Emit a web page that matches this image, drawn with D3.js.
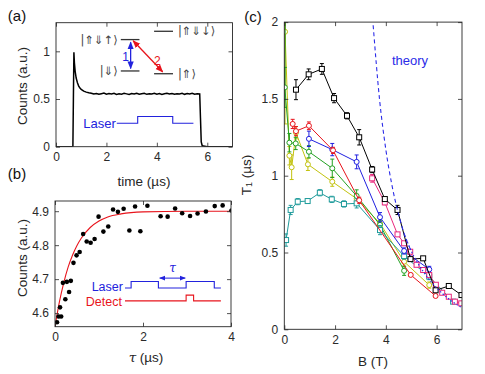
<!DOCTYPE html>
<html>
<head>
<meta charset="utf-8">
<script src="https://cdn.jsdelivr.net/npm/d3@7"></script>
<style>
  body { margin: 0; background: #fff; }
  svg { font-family: "Liberation Sans", Arial, Helvetica, sans-serif; }
  .tick text { font-size: 12px; fill: #2a2a2a; font-family: "Liberation Sans", Arial, Helvetica, sans-serif; }
</style>
</head>
<body>
<svg id="fig" width="485" height="374"></svg>
<script>
// ---- panel (a): PL trace ----
const tA = [0, 0.67, 0.69, 0.71, 0.73, 0.76, 0.8, 0.85, 0.9, 0.95, 1.0, 1.1, 1.2, 1.3,
  1.4, 1.5, 1.6, 1.7, 1.8, 1.9, 2.0, 2.1, 2.2, 2.3, 2.4, 2.5, 2.6, 2.7, 2.8, 2.9, 3.0,
  3.1, 3.2, 3.3, 3.4, 3.5, 3.6, 3.7, 3.8, 3.9, 4.0, 4.1, 4.2, 4.3, 4.4, 4.5, 4.6, 4.7,
  4.8, 4.9, 5.0, 5.1, 5.2, 5.3, 5.4, 5.5, 5.6, 5.7, 5.73, 5.76, 5.8, 6.0, 7.0];
const countsA = [0, 0, 0.5, 0.99, 0.88, 0.79, 0.72, 0.67, 0.635, 0.615, 0.6, 0.583, 0.572, 0.566,
  0.561, 0.552, 0.558, 0.549, 0.556, 0.562, 0.550, 0.557, 0.553, 0.560, 0.548, 0.556, 0.551, 0.559,
  0.554, 0.547, 0.558, 0.552, 0.561, 0.550, 0.555, 0.559, 0.549, 0.556, 0.553, 0.560, 0.551, 0.557,
  0.548, 0.555, 0.561, 0.552, 0.558, 0.550, 0.556, 0.553, 0.559, 0.549, 0.557, 0.552, 0.560, 0.551,
  0.556, 0.553, 0.3, 0.05, 0.01, 0, 0];
const ticksAx = [0, 2, 4, 6];
const ticksAy = [0, 0.5, 1];

// laser pulse sketch in (a), in data units
const laserAx = [2.41, 3.24, 3.24, 4.63, 4.63, 5.45];
const laserAy = [0.246, 0.246, 0.316, 0.316, 0.246, 0.246];

// energy levels in (a)
const levels = [
  {label: "|\u21D1\u21D3\u2191\u27E9", x0: 2.57, x1: 3.31, y: 1.123, side: "left"},
  {label: "|\u21D1\u21D3\u2193\u27E9", x0: 3.89, x1: 4.64, y: 1.21, side: "right"},
  {label: "|\u21D3\u27E9", x0: 2.57, x1: 3.31, y: 0.794, side: "left"},
  {label: "|\u21D1\u27E9", x0: 3.89, x1: 4.64, y: 0.765, side: "right"}
];

// ---- panel (b): T1 recovery ----
const tauB = [0.046, 0.08, 0.14, 0.114, 0.18, 0.235, 0.27, 0.32, 0.36, 0.42, 0.49, 0.56,
  0.64, 0.72, 0.81, 0.90, 0.99, 1.10, 1.21, 1.32, 1.43, 1.56, 1.69, 1.82, 1.94, 2.10,
  2.40, 2.56, 2.73, 2.89, 3.07, 3.24, 3.43, 3.63, 3.81, 4.01];
const countsB = [4.573, 4.590, 4.590, 4.617, 4.689, 4.641, 4.692, 4.662, 4.695, 4.748, 4.770, 4.780,
  4.833, 4.811, 4.807, 4.818, 4.884, 4.840, 4.855, 4.905, 4.898, 4.907, 4.843, 4.914, 4.841, 4.916,
  4.885, 4.884, 4.908, 4.894, 4.886, 4.893, 4.899, 4.915, 4.917, 4.902];
const fitTau = [0, 0.1, 0.2, 0.3, 0.4, 0.5, 0.6, 0.8, 1.0, 1.2, 1.5, 2.0, 3.0, 4.0];
const fitCounts = [4.56, 4.633, 4.690, 4.736, 4.771, 4.799, 4.821, 4.852, 4.871, 4.883, 4.892, 4.898, 4.900, 4.900];
const ticksBx = [0, 2, 4];
const ticksBy = [4.6, 4.7, 4.8, 4.9];

const laserBx = [1.59, 1.73, 1.73, 2.35, 2.35, 2.98, 2.98, 3.62, 3.62, 3.77];
const laserBy = [4.674, 4.674, 4.693, 4.693, 4.674, 4.674, 4.693, 4.693, 4.674, 4.674];
const detectBx = [1.59, 2.98, 2.98, 3.15, 3.15, 3.77];
const detectBy = [4.636, 4.636, 4.653, 4.653, 4.636, 4.636];

// ---- panel (c): T1 vs B ----
const blackB = [0.46, 0.96, 1.48, 1.96, 2.47, 2.95, 3.46, 3.96, 4.46, 4.97, 5.47, 5.96, 6.48, 6.98];
const blackT = [1.56, 1.66, 1.695, 1.505, 1.39, 1.25, 1.04, 0.848, 0.777, 0.457, 0.462, 0.254, 0.282, 0.223];
const blackE = [0.065, 0.035, 0.035, 0.03, 0.02, 0.05, 0.02, 0.01, 0.03, 0.01, 0.01, 0.01, 0.01, 0.01];

const redB = [0.33, 0.46, 0.97, 1.92, 2.95, 4.98, 5.96];
const redT = [1.337, 1.29, 1.325, 1.165, 0.84, 0.354, 0.217];
const redE = [0.03, 0.03, 0.025, 0.02, 0.02, 0.01, 0.01];

const blueB = [0.97, 1.89, 2.85, 3.77, 4.72, 5.71];
const blueT = [1.24, 1.17, 1.09, 0.73, 0.51, 0.39];
const blueE = [0.05, 0.04, 0.045, 0.03, 0.02, 0.02];

const greenB = [0.05, 0.02, 0.2, 0.45, 0.97, 1.89, 2.85, 3.77, 4.72];
const greenT = [2.4, 1.575, 1.215, 1.21, 1.156, 1.048, 0.868, 0.68, 0.381];
const greenE = [0, 0.13, 0.06, 0.04, 0.04, 0.06, 0.04, 0.03, 0.03];

const yellowB = [0.0, 0.03, 0.2, 0.29, 0.46, 0.93, 1.89, 2.85, 3.77, 4.72, 5.71];
const yellowT = [2.4, 1.937, 1.13, 1.055, 1.28, 1.074, 0.961, 0.85, 0.69, 0.44, 0.288];
const yellowE = [0, 0.6, 0.06, 0.08, 0.04, 0.04, 0.03, 0.03, 0.03, 0.03, 0.02];

const tealB = [0.07, 0.25, 0.53, 0.92, 1.4, 1.87, 2.35, 2.85, 3.77, 4.72, 5.71, 6.65];
const tealT = [0.581, 0.777, 0.831, 0.835, 0.889, 0.846, 0.816, 0.82, 0.646, 0.477, 0.343, 0.18];
const tealE = [0.04, 0.03, 0.02, 0.015, 0.02, 0.02, 0.02, 0.03, 0.03, 0.02, 0.02, 0.01];

const pinkB = [3.46, 3.96, 4.46, 4.72, 4.96, 5.21, 5.47, 5.71, 5.97, 6.22, 6.48, 6.72, 6.97];
const pinkT = [0.983, 0.826, 0.618, 0.56, 0.505, 0.42, 0.386, 0.353, 0.29, 0.238, 0.212, 0.18, 0.169];
const pinkE = [0.025, 0.015, 0.01, 0.01, 0.01, 0.01, 0.01, 0.01, 0.01, 0.01, 0.01, 0.01, 0.01];

const theoryDashB = [3.5, 3.75, 4.0, 4.25, 4.5, 4.75, 5.0];
const theoryDashT = [1.98, 1.5, 1.17, 0.93, 0.75, 0.61, 0.51];
const theoryDotB = [4.75, 5.0, 5.5, 6.0, 6.5, 7.0];
const theoryDotT = [0.61, 0.51, 0.37, 0.27, 0.195, 0.14];

const ticksCx = [0, 2, 4, 6];
const ticksCy = [0, 0.5, 1, 1.5, 2];

const svg = d3.select("#fig");
const AXIS = "#262626";
const FONT = "'Liberation Sans', Arial, Helvetica, sans-serif";
let clipCount = 0;

const zip = (xs, ys) => xs.map((v, i) => [v, ys[i]]);

function makePanel(box, xDom, yDom) {
  const x = d3.scaleLinear().domain(xDom).range([box.l, box.r]);
  const y = d3.scaleLinear().domain(yDom).range([box.b, box.t]);
  const id = "clip" + (clipCount++);
  svg.append("clipPath").attr("id", id).append("rect")
    .attr("x", box.l).attr("y", box.t)
    .attr("width", box.r - box.l).attr("height", box.b - box.t);
  const g = svg.append("g");
  return {x, y, g, box, clip: `url(#${id})`};
}

// box + inward ticks on all four sides
function drawFrame(p, xTicks, yTicks) {
  const {x, y, box} = p;
  const fmt = d => String(d);
  const parts = [
    [d3.axisBottom(x).tickValues(xTicks).tickFormat(fmt), `translate(0,${box.b})`],
    [d3.axisTop(x).tickValues(xTicks).tickFormat(""), `translate(0,${box.t})`],
    [d3.axisLeft(y).tickValues(yTicks).tickFormat(fmt), `translate(${box.l},0)`],
    [d3.axisRight(y).tickValues(yTicks).tickFormat(""), `translate(${box.r},0)`]
  ];
  parts.forEach(([ax, tr]) => {
    const a = svg.append("g").attr("transform", tr)
      .call(ax.tickSize(-4).tickSizeOuter(0).tickPadding(6))
      .attr("font-family", FONT).attr("font-size", 12);
    a.select(".domain").remove();
    a.selectAll(".tick line").attr("stroke", AXIS).attr("stroke-width", 0.8);
  });
  svg.append("rect")
    .attr("x", box.l).attr("y", box.t)
    .attr("width", box.r - box.l).attr("height", box.b - box.t)
    .attr("fill", "none").attr("stroke", AXIS).attr("stroke-width", 0.9);
}

function text(str, x, y, opts = {}) {
  const t = svg.append("text").attr("x", x).attr("y", y)
    .attr("font-size", opts.size || 13.5)
    .attr("fill", opts.color || AXIS)
    .attr("text-anchor", opts.anchor || "middle")
    .attr("dominant-baseline", "central")
    .text(str);
  if (opts.rotate) t.attr("transform", `rotate(-90,${x},${y})`);
  if (opts.family) t.attr("font-family", opts.family);
  if (opts.italic) t.attr("font-style", "italic");
  return t;
}

function arrowHead(defs, id, color) {
  defs.append("marker").attr("id", id)
    .attr("viewBox", "0 0 10 10").attr("refX", 9).attr("refY", 5)
    .attr("markerWidth", 6).attr("markerHeight", 6).attr("orient", "auto-start-reverse")
    .append("path").attr("d", "M0,1 L10,5 L0,9 z").attr("fill", color);
}
const defs = svg.append("defs");
arrowHead(defs, "arrBlue", "#2222dd");
arrowHead(defs, "arrRed", "#e8141c");

// ================= panel (a) =================
const pa = makePanel({l: 56, r: 232.5, t: 22.7, b: 146.7}, [0, 7], [0, 1.3]);
const lineA = d3.line().x(d => pa.x(d[0])).y(d => pa.y(d[1]));

pa.g.append("path").datum(zip(tA, countsA))
  .attr("d", lineA).attr("fill", "none").attr("stroke", "#000").attr("stroke-width", 1.5)
  .attr("clip-path", pa.clip);

pa.g.append("path").datum(zip(laserAx, laserAy))
  .attr("d", lineA).attr("fill", "none").attr("stroke", "#2222dd").attr("stroke-width", 1.1);
text("Laser", pa.x(laserAx[0]) - 1, pa.y(laserAy[0]), {color: "#2222dd", anchor: "end", size: 13});

levels.forEach(lv => {
  pa.g.append("line")
    .attr("x1", pa.x(lv.x0)).attr("x2", pa.x(lv.x1))
    .attr("y1", pa.y(lv.y)).attr("y2", pa.y(lv.y))
    .attr("stroke", "#333").attr("stroke-width", 1.3);
  const left = lv.side === "left";
  text(lv.label, left ? pa.x(lv.x0) - 3 : pa.x(lv.x1) + 5, pa.y(lv.y),
    {anchor: left ? "end" : "start", size: 11.5, color: "#444", family: "DejaVu Sans"});
});

pa.g.append("line")
  .attr("x1", pa.x(2.96)).attr("x2", pa.x(2.96))
  .attr("y1", pa.y(1.095)).attr("y2", pa.y(0.82))
  .attr("stroke", "#2222dd").attr("stroke-width", 1.3)
  .attr("marker-start", "url(#arrBlue)").attr("marker-end", "url(#arrBlue)");
text("1", pa.x(2.76), pa.y(0.94), {color: "#2222dd", size: 12});

pa.g.append("line")
  .attr("x1", pa.x(3.06)).attr("x2", pa.x(4.23))
  .attr("y1", pa.y(1.11)).attr("y2", pa.y(0.785))
  .attr("stroke", "#e8141c").attr("stroke-width", 1.3)
  .attr("marker-start", "url(#arrRed)").attr("marker-end", "url(#arrRed)");
text("2", pa.x(4.02), pa.y(0.895), {color: "#e8141c", size: 12});

drawFrame(pa, ticksAx, ticksAy);
text("Counts (a.u.)", 22, 86, {rotate: true});
text("time (\u00B5s)", 144, 181);
text("(a)", 17, 15, {size: 15, color: "#111"});

// ================= panel (b) =================
const pb = makePanel({l: 55, r: 231, t: 201, b: 326.7}, [0, 4], [4.56, 4.93]);
const lineB = d3.line().x(d => pb.x(d[0])).y(d => pb.y(d[1]));

pb.g.append("path").datum(zip(fitTau, fitCounts))
  .attr("d", lineB.curve(d3.curveMonotoneX)).attr("fill", "none")
  .attr("stroke", "#e8141c").attr("stroke-width", 1.1).attr("clip-path", pb.clip);
lineB.curve(d3.curveLinear);

pb.g.selectAll("circle.pt").data(zip(tauB, countsB)).join("circle")
  .attr("class", "pt")
  .attr("cx", d => pb.x(d[0])).attr("cy", d => pb.y(d[1])).attr("r", 2.3)
  .attr("fill", "#000").attr("clip-path", pb.clip);

pb.g.append("path").datum(zip(laserBx, laserBy))
  .attr("d", lineB).attr("fill", "none").attr("stroke", "#2222dd").attr("stroke-width", 1.1);
pb.g.append("path").datum(zip(detectBx, detectBy))
  .attr("d", lineB).attr("fill", "none").attr("stroke", "#e8141c").attr("stroke-width", 1.1);
pb.g.append("line")
  .attr("x1", pb.x(2.38)).attr("x2", pb.x(2.96))
  .attr("y1", pb.y(4.703)).attr("y2", pb.y(4.703))
  .attr("stroke", "#2222dd").attr("stroke-width", 1)
  .attr("marker-start", "url(#arrBlue)").attr("marker-end", "url(#arrBlue)");
text("\u03C4", pb.x(2.67), pb.y(4.733), {color: "#2222dd", size: 12, italic: true, family: "DejaVu Serif"});
text("Laser", pb.x(laserBx[0]) - 2, pb.y(4.676), {color: "#2222dd", anchor: "end", size: 12.5});
text("Detect", pb.x(detectBx[0]) - 3, pb.y(4.633), {color: "#e8141c", anchor: "end", size: 12.5});

drawFrame(pb, ticksBx, ticksBy);
text("Counts (a.u.)", 22, 258, {rotate: true});
const tl = text("", 146, 357);
tl.append("tspan").attr("font-style", "italic").attr("font-family", "DejaVu Serif").text("\u03C4");
tl.append("tspan").text(" (\u00B5s)");
text("(b)", 17, 173, {size: 15, color: "#111"});

// ================= panel (c) =================
const pc = makePanel({l: 284.3, r: 462, t: 22.1, b: 329.3}, [0, 7], [0, 2]);
const lineC = d3.line().x(d => pc.x(d[0])).y(d => pc.y(d[1]));

const series = [
  {B: yellowB, T: yellowT, E: yellowE, color: "#c2c20e", shape: "circle"},
  {B: greenB, T: greenT, E: greenE, color: "#22a022", shape: "circle"},
  {B: tealB, T: tealT, E: tealE, color: "#1f9b9b", shape: "square"},
  {B: blueB, T: blueT, E: blueE, color: "#2020e0", shape: "circle"},
  {B: redB, T: redT, E: redE, color: "#e8141c", shape: "circle"},
  {B: pinkB, T: pinkT, E: pinkE, color: "#e8287c", shape: "square"},
  {B: blackB, T: blackT, E: blackE, color: "#000000", shape: "square"}
];

const gc = pc.g.append("g").attr("clip-path", pc.clip);

series.forEach(s => {
  const pts = s.B.map((b, i) => ({b, t: s.T[i], e: s.E[i]}));
  const sg = gc.append("g");
  sg.append("path").datum(pts.map(p => [p.b, p.t]))
    .attr("d", lineC).attr("fill", "none").attr("stroke", s.color).attr("stroke-width", 1);
  // error bars
  const eb = sg.selectAll("g.eb").data(pts.filter(p => p.e > 0)).join("g").attr("class", "eb");
  eb.append("line")
    .attr("x1", p => pc.x(p.b)).attr("x2", p => pc.x(p.b))
    .attr("y1", p => pc.y(p.t - p.e)).attr("y2", p => pc.y(p.t + p.e));
  eb.append("line")
    .attr("x1", p => pc.x(p.b) - 2).attr("x2", p => pc.x(p.b) + 2)
    .attr("y1", p => pc.y(p.t - p.e)).attr("y2", p => pc.y(p.t - p.e));
  eb.append("line")
    .attr("x1", p => pc.x(p.b) - 2).attr("x2", p => pc.x(p.b) + 2)
    .attr("y1", p => pc.y(p.t + p.e)).attr("y2", p => pc.y(p.t + p.e));
  eb.selectAll("line").attr("stroke", s.color).attr("stroke-width", 1);
  // markers
  if (s.shape === "square") {
    sg.selectAll("rect").data(pts).join("rect")
      .attr("x", p => pc.x(p.b) - 2.5).attr("y", p => pc.y(p.t) - 2.5)
      .attr("width", 5).attr("height", 5)
      .attr("fill", "#fff").attr("stroke", s.color).attr("stroke-width", 1);
  } else {
    sg.selectAll("circle").data(pts).join("circle")
      .attr("cx", p => pc.x(p.b)).attr("cy", p => pc.y(p.t)).attr("r", 2.5)
      .attr("fill", "#fff").attr("stroke", s.color).attr("stroke-width", 1);
  }
});

gc.append("path").datum(zip(theoryDashB, theoryDashT))
  .attr("d", lineC.curve(d3.curveMonotoneX)).attr("fill", "none")
  .attr("stroke", "#2b2be8").attr("stroke-width", 1.1).attr("stroke-dasharray", "4,3");
gc.append("path").datum(zip(theoryDotB, theoryDotT))
  .attr("d", lineC).attr("fill", "none")
  .attr("stroke", "#2b2be8").attr("stroke-width", 1.1).attr("stroke-dasharray", "1.5,2");
text("theory", 410, 60, {color: "#2b2be8", size: 13});

drawFrame(pc, ticksCx, ticksCy);
const yl = text("", 246, 175, {rotate: true});
yl.append("tspan").text("T");
yl.append("tspan").attr("font-size", 9).attr("dy", 3).text("1");
yl.append("tspan").attr("dy", -3).text(" (\u00B5s)");
text("B (T)", 373, 361);
text("(c)", 253, 16, {size: 15, color: "#111"});
</script>
</body>
</html>
